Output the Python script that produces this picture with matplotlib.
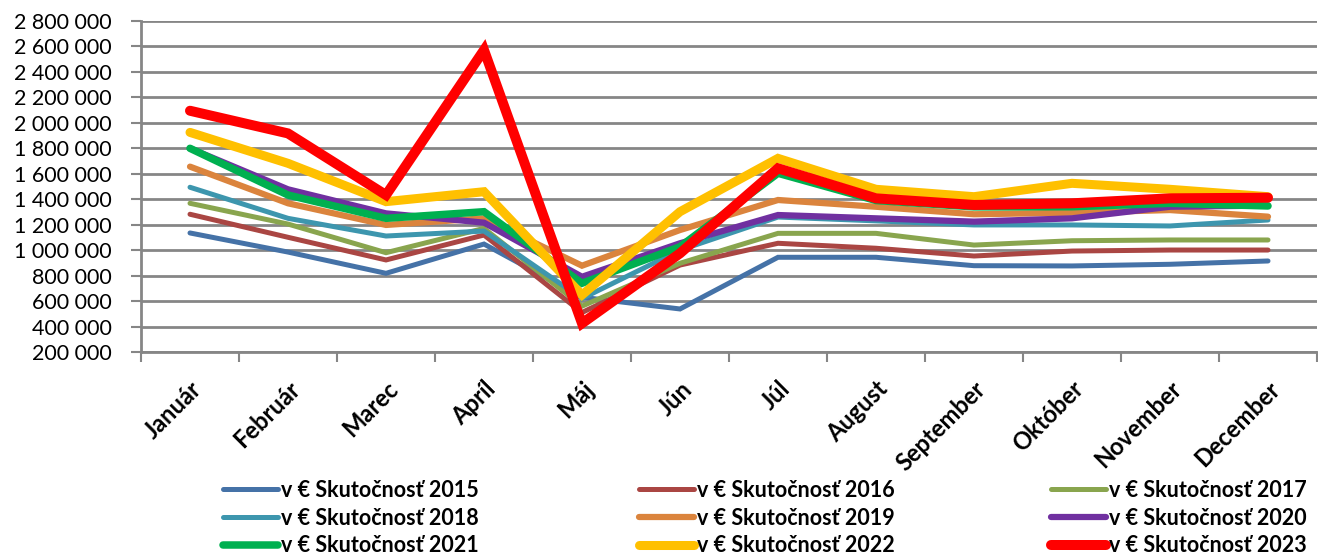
import matplotlib
matplotlib.use("Agg")
import matplotlib.pyplot as plt

plt.rcParams['font.family'] = ['Lato', 'DejaVu Sans']

months = ["Január", "Február", "Marec", "Apríl", "Máj", "Jún", "Júl",
          "August", "September", "Október", "November", "December"]

s2015 = [1135000, 985000, 818000, 1048000, 630000, 538000, 944000, 944000, 878000, 876000, 889000, 915000]
s2016 = [1282000, 1101000, 923000, 1119000, 510000, 883000, 1054000, 1015000, 954000, 993000, 1001000, 1001000]
s2017 = [1368000, 1205000, 980000, 1171000, 560000, 897000, 1132000, 1132000, 1040000, 1074000, 1080000, 1080000]
s2018 = [1494000, 1250000, 1111000, 1150000, 620000, 1000000, 1260000, 1230000, 1198000, 1198000, 1190000, 1237000]
s2019 = [1656000, 1368000, 1198000, 1250000, 878000, 1158000, 1394000, 1341000, 1282000, 1294000, 1315000, 1263000]
s2020 = [1800000, 1478000, 1289000, 1216000, 791000, 1054000, 1276000, 1250000, 1224000, 1250000, 1341000, 1350000]
s2021 = [1800000, 1433000, 1250000, 1302000, 740000, 1027000, 1604000, 1390000, 1340000, 1341000, 1368000, 1347000]
s2022 = [1925000, 1682000, 1381000, 1459000, 648000, 1302000, 1721000, 1478000, 1420000, 1525000, 1478000, 1420000]
s2023 = [2095000, 1917000, 1433000, 2572000, 425000, 975000, 1643000, 1407000, 1355000, 1368000, 1407000, 1412000]

labels = ["v € Skutočnosť 2015", "v € Skutočnosť 2016", "v € Skutočnosť 2017",
          "v € Skutočnosť 2018", "v € Skutočnosť 2019", "v € Skutočnosť 2020",
          "v € Skutočnosť 2021", "v € Skutočnosť 2022", "v € Skutočnosť 2023"]
series = [s2015, s2016, s2017, s2018, s2019, s2020, s2021, s2022, s2023]
colors = ["#4572A7", "#AA4643", "#89A54E", "#3D96AE", "#DB843D",
          "#7030A0", "#00B050", "#FFC000", "#FF0000"]
widths = [3.6, 3.6, 3.6, 3.6, 4.5, 4.5, 5.4, 6.5, 7.2]

yticks = list(range(200000, 2800001, 200000))
ytick_labels = [f"{v:,}".replace(",", " ") for v in yticks]

fig = plt.figure(figsize=(13.18, 5.56), dpi=100)
ax = fig.add_axes([141/1318, 1-352/556, (1317-141)/1318, (352-21)/556])

x = list(range(len(months)))
handles = []
for s, c, w, lab in zip(series, colors, widths, labels):
    h, = ax.plot(x, s, color=c, lw=w, solid_capstyle='round',
                 solid_joinstyle='miter', label=lab, clip_on=False)
    handles.append(h)

ax.set_xlim(-0.5, len(months) - 0.5)
ax.set_ylim(200000, 2800000)
ax.set_yticks(yticks)
ax.set_yticklabels(ytick_labels, fontsize=15.5)
ax.yaxis.grid(True, color="#868686", lw=2)
ax.set_axisbelow(True)

ax.set_xticks([i - 0.5 for i in range(len(months) + 1)])
ax.set_xticklabels([])
ax.set_xticks(x, minor=True)
ax.set_xticklabels(months, minor=True, rotation=45, ha='right', va='top',
                   rotation_mode='anchor', fontsize=17, fontweight='bold')
ax.tick_params(axis='x', which='minor', length=0, pad=18)
ax.tick_params(axis='x', which='major', length=7, width=1.5, color="#868686")
ax.tick_params(axis='y', length=7, width=1.5, color="#868686", pad=14)

for sp in ['top', 'right']:
    ax.spines[sp].set_visible(False)
for sp in ['left', 'bottom']:
    ax.spines[sp].set_color("#868686")
    ax.spines[sp].set_linewidth(2)

col_x = [223/1318, 639/1318, 1051/1318]
for ci in range(3):
    hs = [handles[ci], handles[ci + 3], handles[ci + 6]]
    fig.legend(handles=hs, labels=[h.get_label() for h in hs],
               loc='upper left', bbox_to_anchor=(col_x[ci], 1-480/556),
               frameon=False, ncol=1, handlelength=2.55, handletextpad=0.14,
               labelspacing=0.31, borderpad=0, borderaxespad=0,
               prop={'weight': 'bold', 'size': 15.5})

fig.savefig("out.png", dpi=100)
